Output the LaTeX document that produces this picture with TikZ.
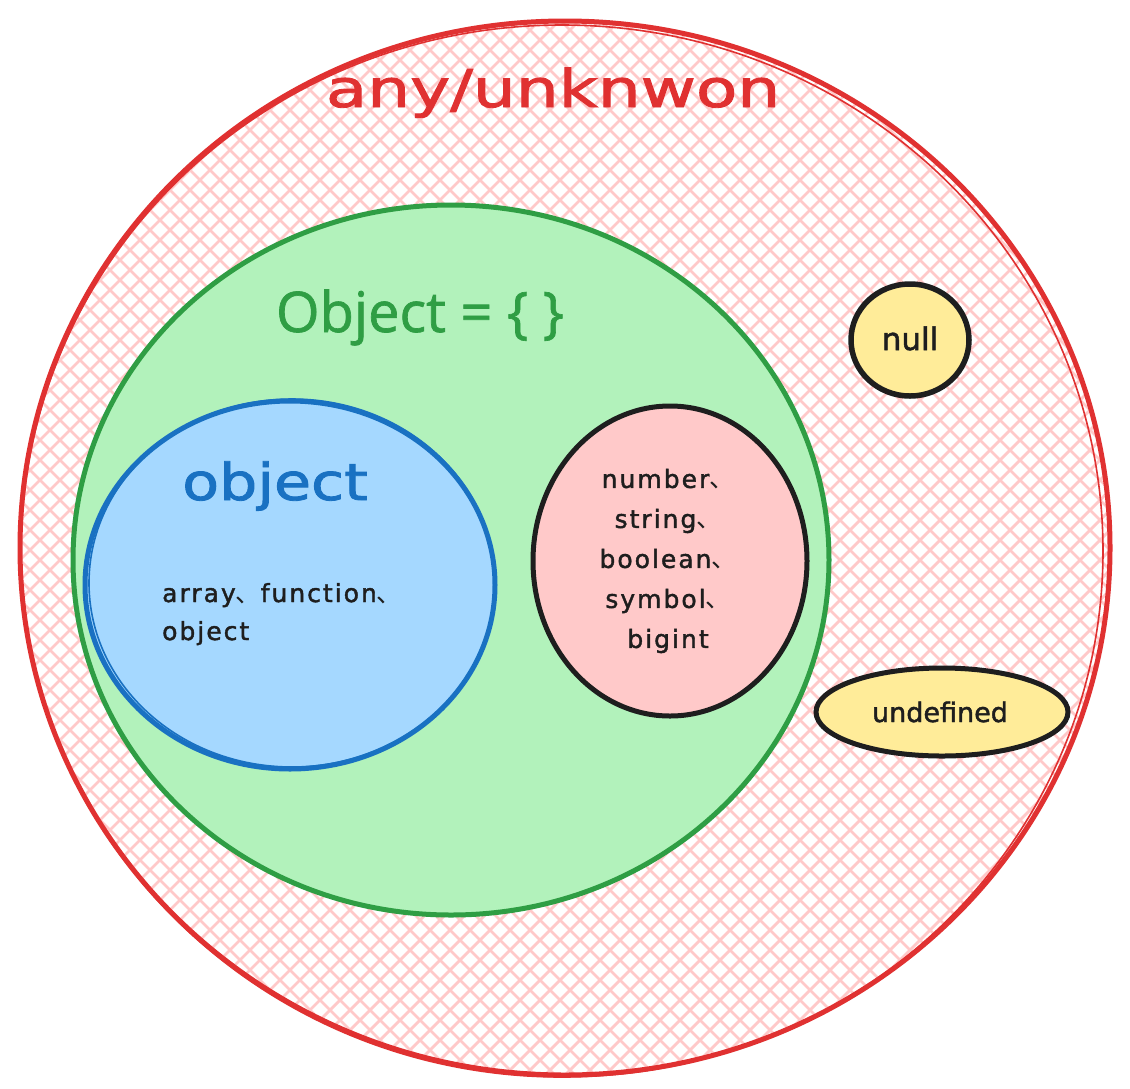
\documentclass[tikz,border=0pt]{standalone}
\usepackage{fontspec}
\usepackage{graphicx}
\setmainfont{DejaVu Sans}
\newfontfamily\objfont{Open Sans}[FakeBold=1.2]
\newfontfamily\cjk{Noto Sans CJK SC}
\definecolor{cred}{HTML}{E03131}
\definecolor{cgreen}{HTML}{2F9E44}
\definecolor{cgreenfill}{HTML}{B2F2BB}
\definecolor{cblue}{HTML}{1971C2}
\definecolor{cbluefill}{HTML}{A5D8FF}
\definecolor{cpink}{HTML}{FFC9C9}
\definecolor{cink}{HTML}{1E1E1E}
\definecolor{cyellow}{HTML}{FFEC99}
\tikzset{
  hatchline/.style={draw=cpink, line width=2.8pt},
  setshape/.style={line width=5pt},
  roughpass/.style={line width=1.6pt},
  plainlabel/.style={inner sep=0pt, text=cink},
}
\newcommand{\ic}{{\cjk 、}}
\newcommand{\hand}{\addfontfeature{FakeBold=1.6}}
\newcommand{\handsp}{\addfontfeature{FakeBold=1.6,LetterSpace=8}}
\begin{document}
\begin{tikzpicture}[x=1pt,y=-1pt]
\useasboundingbox (0,0) rectangle (1130,1088);
\fill[white] (0,0) rectangle (1130,1088);
% hatch inside outer set
\begin{scope}
  \clip (565,548) ellipse [x radius=545, y radius=527];
  \foreach \i in {-1400,-1380,...,1200} {
    \draw[hatchline] (\i,-100) -- ++(1300,1300);
  }
  \foreach \i in {-60,-40,...,2500} {
    \draw[hatchline] (\i,-100) -- ++(-1300,1300);
  }
\end{scope}
\draw[setshape, draw=cred] (565,548) ellipse [x radius=545, y radius=527];
\draw[roughpass, draw=cred] (562,551) ellipse [x radius=541, y radius=526];
% Object = {}
\draw[setshape, draw=cgreen, fill=cgreenfill] (451,560) ellipse [x radius=378, y radius=355];
% object
\draw[setshape, draw=cblue, fill=cbluefill] (290,585) ellipse [x radius=205, y radius=184];
\draw[roughpass, draw=cblue] (292,583) ellipse [x radius=203, y radius=184];
% primitives
\draw[setshape, draw=cink, fill=cpink] (670,561) ellipse [x radius=137, y radius=155];
% null
\draw[line width=5.5pt, draw=cink, fill=cyellow] (910,340) ellipse [x radius=59, y radius=56];
% undefined
\draw[setshape, draw=cink, fill=cyellow] (942,712) ellipse [x radius=126, y radius=44];

\node[inner sep=0pt, text=cred, anchor=base, font=\hand\fontsize{52}{60}\selectfont] (title) at (553,107) {\scalebox{1.3}[1]{any/unknwon}};
\node[inner sep=0pt, text=cgreen, anchor=base, font=\objfont\fontsize{56}{66}\selectfont] (objtitle) at (420,332) {Object = \{ \}};
\node[inner sep=0pt, text=cblue, anchor=base, font=\hand\fontsize{51}{60}\selectfont] (lobj) at (275,500) {\scalebox{1.18}[1]{object}};
\node[plainlabel, anchor=base west, align=left, font=\handsp\fontsize{25}{38}\selectfont] (refs) at (162,640) {array\ic function\ic\\object};
\node[plainlabel, anchor=center, align=center, font=\handsp\fontsize{25}{40}\selectfont] (prims) at (668,561) {number\ic\\string\ic\\boolean\ic\\symbol\ic\\bigint};
\node[plainlabel, anchor=base, font=\hand\fontsize{31}{36}\selectfont] (null) at (910,350) {null};
\node[plainlabel, anchor=base, font=\hand\fontsize{27}{32}\selectfont] (undef) at (940,722) {undefined};
\end{tikzpicture}
\end{document}
